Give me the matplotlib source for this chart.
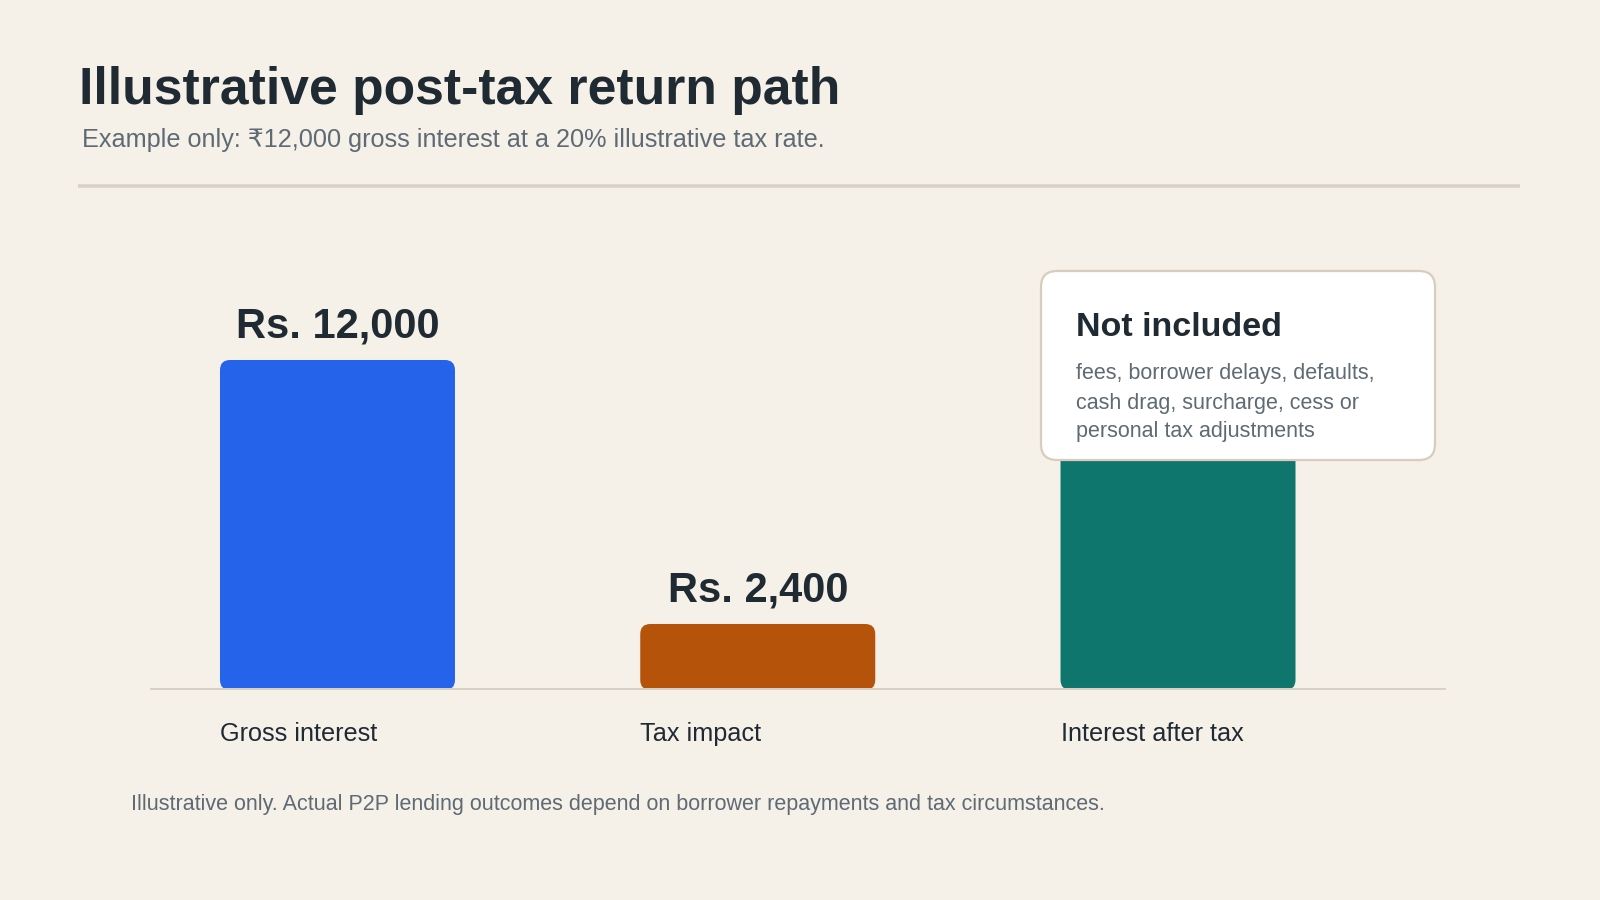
import matplotlib
matplotlib.use("Agg")
import matplotlib.pyplot as plt
from matplotlib.patches import FancyBboxPatch

# ---- data ----
categories = ["Gross interest", "Tax impact", "Interest after tax"]
values = [12000, 2400, 9600]
value_labels = ["Rs. 12,000", "Rs. 2,400", "Rs. 9,600"]
label_visible = [True, True, False]   # third label sits behind the note box
bar_colors = ["#2563EB", "#B45309", "#0F766E"]

title = "Illustrative post-tax return path"
subtitle = "Example only: \u20b912,000 gross interest at a 20% illustrative tax rate."
footer = "Illustrative only. Actual P2P lending outcomes depend on borrower repayments and tax circumstances."
note_title = "Not included"
note_lines = ["fees, borrower delays, defaults,",
              "cash drag, surcharge, cess or",
              "personal tax adjustments"]

BG = "#F5F0E8"
DARK = "#1F2A33"
GRAY = "#5E6A74"
RULE = "#D9D2C4"
FONT = ["Liberation Sans", "DejaVu Sans"]

W, H = 1600, 900
fig = plt.figure(figsize=(16, 9), dpi=100)
fig.patch.set_facecolor(BG)

# overlay axes in pixel coordinates for text & decorations
ov = fig.add_axes([0, 0, 1, 1], zorder=0)
ov.set_xlim(0, W)
ov.set_ylim(H, 0)
ov.axis("off")
ov.patch.set_alpha(0)

ov.text(79, 104, title, fontsize=37.2, fontweight="bold", color=DARK,
        family=FONT, va="baseline", ha="left")
ov.text(82, 146.5, subtitle, fontsize=18.2, color=GRAY,
        family=FONT, va="baseline", ha="left")
ov.plot([78, 1520], [186, 186], color=RULE, lw=2.6, solid_capstyle="butt")
ov.text(131, 810, footer, fontsize=15.5, color=GRAY, family=FONT,
        va="baseline", ha="left")

# ---- chart axes ----
ax_left, ax_right, ax_bottom, ax_top = 150, 1446, 690, 200
ax = fig.add_axes([ax_left / W, 1 - ax_bottom / H,
                   (ax_right - ax_left) / W, (ax_bottom - ax_top) / H], zorder=1)
ax.patch.set_alpha(0)
xs = list(range(len(categories)))
spacing_px = 420.3
bar_w = 235 / spacing_px
ax.set_xlim(-(337.5 - ax_left) / spacing_px, 2 + (ax_right - 1178) / spacing_px)
px_per_unit_y = 330 / 12000
ax.set_ylim(0, (ax_bottom - ax_top) / px_per_unit_y)
ax.axis("off")

bars = ax.bar(xs, values, width=bar_w, color=bar_colors)
asp = (1 / px_per_unit_y) / (1 / spacing_px)
radius_px = 10
for b, c in zip(bars, bar_colors):
    x, y = b.get_x(), b.get_y()
    w, h = b.get_width(), b.get_height()
    b.remove()
    p = FancyBboxPatch((x, y), w, h,
                       boxstyle=f"round,pad=0,rounding_size={radius_px / spacing_px}",
                       mutation_aspect=asp, facecolor=c, edgecolor="none", zorder=2)
    ax.add_patch(p)

ax.axhline(0, color=RULE, lw=2.9, zorder=3)

for x, v, lab, vis in zip(xs, values, value_labels, label_visible):
    if not vis:
        continue
    ax.annotate(lab, (x, v), xytext=(0, 23 * 0.72), textcoords="offset points",
                ha="center", va="baseline", fontsize=30, fontweight="bold",
                color=DARK, family=FONT, zorder=2)

for x, cat in zip(xs, categories):
    ax.annotate(cat, (x - bar_w / 2, 0), xytext=(0, -51 * 0.72),
                textcoords="offset points", ha="left", va="baseline",
                fontsize=18.2, color=DARK, family=FONT, annotation_clip=False)

# ---- note box (on top) ----
top = fig.add_axes([0, 0, 1, 1], zorder=5)
top.set_xlim(0, W)
top.set_ylim(H, 0)
top.axis("off")
top.patch.set_alpha(0)
bx0, by0, bx1, by1 = 1041, 271, 1435, 460
box = FancyBboxPatch((bx0, by0), bx1 - bx0, by1 - by0,
                     boxstyle="round,pad=0,rounding_size=16",
                     facecolor="white", edgecolor="#D8CDBD", lw=1.6)
top.add_patch(box)
top.text(1076, 336.5, note_title, fontsize=24.5, fontweight="bold", color=DARK,
         family=FONT, va="baseline", ha="left")
for i, line in enumerate(note_lines):
    top.text(1076, 379.5 + 29 * i, line, fontsize=15.5, color=GRAY,
             family=FONT, va="baseline", ha="left")

fig.savefig("out.png", dpi=100, facecolor=BG)
